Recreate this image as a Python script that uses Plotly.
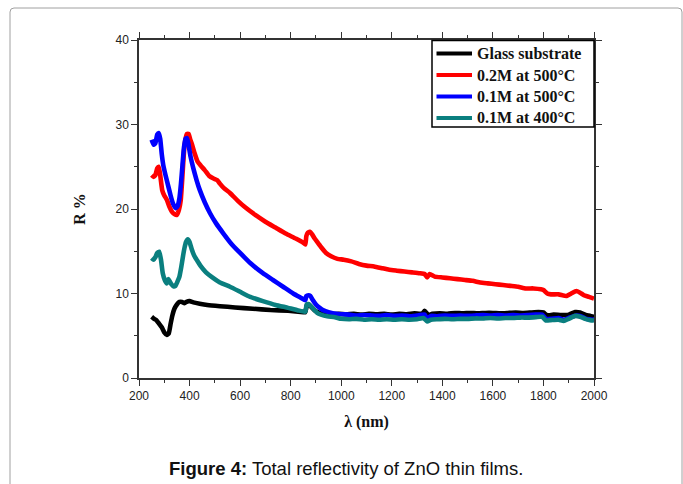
import plotly.graph_objects as go

# Total reflectivity R (%) versus wavelength (nm)
wl_glass = [250, 260, 270, 280, 290, 300, 310, 318, 325, 332, 340, 350, 360, 370, 380, 390, 400,
            415, 440, 470, 520, 580, 650, 720, 790, 850, 858, 864, 872, 882, 895, 910, 930, 960,
            990, 1020, 1050, 1080, 1110, 1140, 1170, 1200, 1230, 1260, 1290, 1320, 1330, 1345,
            1360, 1390, 1420, 1450, 1480, 1510, 1540, 1570, 1600, 1630, 1660, 1690, 1720, 1750,
            1780, 1800, 1815, 1840, 1870, 1900, 1925, 1945, 1965, 1985, 2000]
r_glass = [7.25, 7.0, 6.8, 6.4, 6.0, 5.4, 5.1, 5.3, 6.4, 7.4, 8.2, 8.7, 9.0, 9.0, 8.85, 9.05, 9.1,
           8.95, 8.8, 8.65, 8.5, 8.35, 8.2, 8.05, 7.95, 7.8, 7.8, 8.6, 8.7, 8.4, 8.0, 7.75, 7.6, 7.55,
           7.6, 7.55, 7.6, 7.5, 7.6, 7.55, 7.6, 7.5, 7.6, 7.55, 7.65, 7.6, 7.95, 7.45,
           7.6, 7.65, 7.6, 7.7, 7.65, 7.7, 7.65, 7.7, 7.7, 7.65, 7.7, 7.75, 7.7, 7.75,
           7.8, 7.75, 7.4, 7.5, 7.45, 7.5, 7.8, 7.75, 7.5, 7.35, 7.25]

wl_02m500 = [250, 258, 265, 272, 278, 284, 292, 300, 310, 320, 330, 340, 350, 358, 365, 372, 378,
             384, 390, 396, 402, 410, 420, 432, 445, 460, 478, 495, 510, 520, 535, 560, 590, 620,
             660, 700, 740, 780, 820, 850, 858, 862, 868, 876, 885, 895, 905, 920, 940, 960, 985,
             1010, 1040, 1070, 1100, 1130, 1160, 1190, 1220, 1250, 1280, 1310, 1330, 1340, 1350,
             1370, 1400, 1430, 1460, 1490, 1520, 1550, 1580, 1610, 1640, 1670, 1700, 1730, 1760,
             1790, 1800, 1815, 1830, 1860, 1890, 1910, 1930, 1945, 1960, 1980, 2000]
r_02m500 = [24.0, 23.8, 24.0, 24.8, 25.0, 24.0, 22.2, 21.6, 21.1, 20.3, 19.7, 19.4, 19.3, 19.9,
            21.0, 24.0, 26.8, 28.3, 28.9, 28.9, 28.3, 27.6, 26.6, 25.6, 25.1, 24.6, 23.9, 23.6,
            23.4, 23.0, 22.5, 21.9, 21.0, 20.2, 19.3, 18.5, 17.8, 17.1, 16.5, 16.0, 15.8, 16.8,
            17.2, 17.3, 17.0, 16.5, 16.1, 15.5, 14.8, 14.4, 14.1, 14.0, 13.8, 13.5, 13.3, 13.2,
            13.0, 12.8, 12.7, 12.6, 12.5, 12.4, 12.3, 11.9, 12.3, 12.0, 11.9, 11.8, 11.7, 11.6,
            11.5, 11.3, 11.2, 11.1, 11.0, 10.9, 10.8, 10.6, 10.6, 10.5, 10.4, 10.0, 9.9, 9.9,
            9.7, 10.0, 10.3, 10.1, 9.8, 9.6, 9.4]

wl_01m500 = [250, 258, 265, 272, 278, 284, 290, 296, 305, 315, 325, 335, 345, 352, 360, 366, 372,
             378, 384, 390, 396, 404, 415, 428, 441, 460, 481, 505, 534, 565, 600, 640, 690, 730,
             770, 810, 840, 858, 862, 870, 878, 888, 900, 915, 930, 950, 980, 1000, 1030, 1060,
             1090, 1120, 1150, 1180, 1210, 1240, 1270, 1300, 1330, 1340, 1355, 1380, 1410, 1440,
             1470, 1500, 1530, 1560, 1590, 1620, 1650, 1680, 1710, 1740, 1770, 1795, 1810, 1830,
             1860, 1880, 1900, 1930, 1950, 1970, 2000]
r_01m500 = [28.2, 27.6, 27.8, 28.8, 29.0, 28.3, 26.5, 25.2, 24.0, 22.8, 21.6, 20.6, 20.1, 20.3,
            21.3, 23.0, 25.2, 27.3, 28.3, 28.4, 27.6, 26.2, 24.8, 23.4, 22.2, 20.8, 19.5, 18.3,
            17.1, 15.9, 14.8, 13.6, 12.4, 11.6, 10.8, 10.0, 9.5, 9.2, 9.7, 9.8, 9.7, 9.2, 8.7,
            8.3, 8.0, 7.8, 7.6, 7.55, 7.5, 7.4, 7.45, 7.4, 7.35, 7.45, 7.35, 7.4, 7.3, 7.4, 7.5,
            7.0, 7.35, 7.3, 7.4, 7.35, 7.4, 7.35, 7.4, 7.45, 7.4, 7.45, 7.4, 7.45, 7.4, 7.45,
            7.5, 7.5, 7.0, 7.0, 7.1, 6.9, 7.1, 7.4, 7.3, 7.0, 6.9]

wl_01m400 = [250, 258, 265, 272, 280, 287, 294, 302, 310, 316, 322, 328, 336, 344, 352, 360, 367,
             374, 380, 386, 393, 400, 408, 418, 430, 445, 465, 490, 520, 560, 600, 640, 690, 740,
             790, 830, 858, 863, 870, 880, 892, 905, 920, 945, 975, 1000, 1030, 1060, 1090, 1120,
             1150, 1180, 1210, 1240, 1270, 1300, 1325, 1340, 1355, 1380, 1410, 1440, 1470, 1500,
             1530, 1560, 1590, 1620, 1650, 1680, 1710, 1740, 1770, 1795, 1810, 1830, 1860, 1880,
             1900, 1925, 1945, 1965, 1985, 2000]
r_01m400 = [14.2, 14.0, 14.3, 14.8, 14.95, 14.0, 12.4, 11.6, 11.2, 11.7, 11.4, 11.1, 10.85, 10.9,
            11.4, 12.0, 13.1, 14.4, 15.4, 16.1, 16.4, 16.1, 15.3, 14.5, 13.9, 13.2, 12.5, 11.9,
            11.3, 10.8, 10.2, 9.6, 9.1, 8.65, 8.3, 8.0, 7.85, 8.7, 8.75, 8.5, 8.1, 7.7, 7.5, 7.3,
            7.2, 7.0, 6.95, 7.0, 6.9, 6.95, 6.9, 6.95, 6.9, 6.95, 6.9, 6.95, 7.1, 6.7, 6.9, 6.95,
            7.0, 6.95, 7.0, 7.0, 7.05, 7.05, 7.1, 7.05, 7.1, 7.1, 7.15, 7.15, 7.2, 7.25, 6.8,
            6.85, 6.9, 6.75, 7.0, 7.35, 7.25, 7.0, 6.85, 6.8]

series_names = ["Glass substrate", "0.2M at 500°C", "0.1M at 500°C", "0.1M at 400°C"]
series_colors = ["#000000", "#FF0000", "#0000FF", "#0A7F7F"]
series_x = [wl_glass, wl_02m500, wl_01m500, wl_01m400]
series_y = [r_glass, r_02m500, r_01m500, r_01m400]

x_ticks = list(range(200, 2001, 200))
y_ticks = [0, 10, 20, 30, 40]

fig = go.Figure()
for name, color, xs, ys in zip(series_names, series_colors, series_x, series_y):
    fig.add_trace(go.Scatter(
        x=xs, y=ys, mode="lines", name=name, showlegend=False,
        line=dict(color=color, width=4.6, shape="spline", smoothing=0.4),
    ))

axis_common = dict(
    showgrid=False, zeroline=False, showline=True, linecolor="#333333", linewidth=1.5,
    mirror="allticks", ticks="outside", ticklen=6, tickwidth=1.2, tickcolor="#333333",
    tickfont=dict(family="Liberation Sans, Arial", size=12, color="#222222"),
)

fig.update_xaxes(
    range=[200, 2000], tickvals=x_ticks, **axis_common,
    minor=dict(dtick=100, ticks="outside", ticklen=3, tickcolor="#333333", tickwidth=1.2),
    title=dict(text="<b>λ (nm)</b>", font=dict(family="Liberation Serif, Times New Roman",
                                                 size=16, color="#111111"), standoff=14),
)
fig.update_yaxes(
    range=[0, 40], tickvals=y_ticks, **axis_common,
    minor=dict(dtick=5, ticks="outside", ticklen=3, tickcolor="#333333", tickwidth=1.2),
    title=dict(text="<b>R %</b>", font=dict(family="Liberation Serif, Times New Roman",
                                             size=16, color="#111111"), standoff=26),
)

# Plot area spans pixels 139..594 horizontally and 40..378 vertically
L, R_, T, B = 139, 89, 40, 106
pw, ph = 683 - L - R_, 484 - T - B


def px(xp):
    return (xp - L) / pw


def py(yp):
    return (484 - B - yp) / ph


shapes = []
annotations = []

# Rounded light-grey frame around the whole figure
x0, x1, y0, y1, rr = px(10), px(682), py(8), py(492), 4 / pw
ry = 4 / ph
frame = (f"M {x0 + rr},{y0} L {x1 - rr},{y0} Q {x1},{y0} {x1},{y0 - ry} "
         f"L {x1},{y1} L {x0},{y1} L {x0},{y0 - ry} Q {x0},{y0} {x0 + rr},{y0} Z")
shapes.append(dict(type="path", xref="paper", yref="paper", path=frame,
                   line=dict(color="#A0A0A0", width=1), fillcolor="rgba(0,0,0,0)", layer="below"))

# Boxed key in the upper-right corner of the plot area
shapes.append(dict(type="rect", xref="paper", yref="paper",
                   x0=px(432), x1=px(594), y0=py(127), y1=py(40.5),
                   line=dict(color="#000000", width=1.5), fillcolor="white", layer="above"))
row_y = [53.5, 75, 96.5, 118]
for name, color, ry_ in zip(series_names, series_colors, row_y):
    shapes.append(dict(type="line", xref="paper", yref="paper",
                       x0=px(436.5), x1=px(472), y0=py(ry_), y1=py(ry_),
                       line=dict(color=color, width=4), layer="above"))
    annotations.append(dict(
        x=px(474.5), y=py(ry_), xref="paper", yref="paper", showarrow=False,
        text=f"<b>{name}</b>", xanchor="left", yanchor="middle",
        font=dict(family="Liberation Serif, Times New Roman", size=16, color="#111111"),
    ))

annotations.append(dict(
    x=px(346), y=py(468), xref="paper", yref="paper", showarrow=False,
    text="<b>Figure 4:</b> Total reflectivity of ZnO thin films.",
    font=dict(family="Liberation Sans, Arial", size=18.5, color="#111111"),
    xanchor="center", yanchor="middle",
))

fig.update_layout(
    width=683, height=484,
    margin=dict(l=L, r=R_, t=T, b=B),
    paper_bgcolor="white", plot_bgcolor="white",
    showlegend=False,
    shapes=shapes,
    annotations=annotations,
)

fig.write_html("out.html")
